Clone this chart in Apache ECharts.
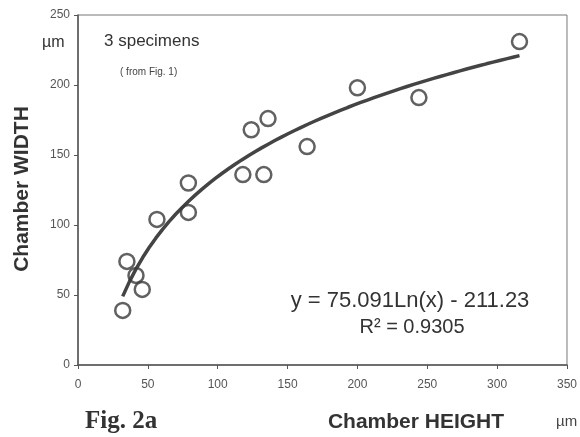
<!DOCTYPE html>
<html>
<head>
<meta charset="utf-8">
<script src="https://cdn.jsdelivr.net/npm/echarts@6/dist/echarts.min.js"></script>
<style>
  html, body { margin: 0; padding: 0; background: #fff; }
  #chart { width: 580px; height: 437px; }
</style>
</head>
<body>
<div id="chart"></div>
<script>
// 数据：腔室高度 / 宽度 (µm)
var chamberHeight = [32, 35, 41.5, 46, 56.5, 79, 79, 118, 124, 133, 136, 164, 200, 244, 316];
var chamberWidth  = [39, 74, 64, 54, 104, 109, 130, 136, 168, 136, 176, 156, 198, 191, 231];
var xTicks = [0, 50, 100, 150, 200, 250, 300, 350];
var yTicks = [0, 50, 100, 150, 200, 250];
// 趋势线系数 (图中公式)
var trendA = 75.091;
var trendB = -211.23;

(function(){
  var myChart = echarts.init(document.getElementById('chart'));
  var points = chamberHeight.map(function (x, i) { return [x, chamberWidth[i]]; });

  // 对数趋势线，从最小到最大高度
  var xMin = Math.min.apply(null, chamberHeight);
  var xMax = Math.max.apply(null, chamberHeight);
  var trend = [];
  for (var k = 0; k <= 60; k++) {
    var x = xMin + (xMax - xMin) * k / 60;
    trend.push([x, trendA * Math.log(x) + trendB]);
  }

  var font = 'Liberation Sans';
  var option = {
    backgroundColor: '#fff',
    textStyle: { fontFamily: font },
    grid: {
      left: 78, right: 13, top: 15, bottom: 72,
      show: true,
      borderColor: '#777',
      borderWidth: 1
    },
    xAxis: {
      type: 'value',
      min: 0, max: 350, interval: 50,
      splitLine: { show: false },
      axisLine: { lineStyle: { color: '#555', width: 1.5 } },
      axisTick: { length: 4, lineStyle: { color: '#555' } },
      axisLabel: {
        color: '#555', fontSize: 12, margin: 14,
        formatter: function (v) { return xTicks.indexOf(v) >= 0 ? String(v) : ''; }
      }
    },
    yAxis: {
      type: 'value',
      min: 0, max: 250, interval: 50,
      splitLine: { show: false },
      axisLine: { show: true, lineStyle: { color: '#555', width: 1.5 } },
      axisTick: { show: true, length: 4, lineStyle: { color: '#555' } },
      axisLabel: {
        color: '#555', fontSize: 12, margin: 8,
        formatter: function (v) { return yTicks.indexOf(v) >= 0 ? String(v) : ''; }
      }
    },
    series: [
      {
        type: 'line',
        data: trend,
        showSymbol: false,
        smooth: false,
        lineStyle: { color: '#444', width: 3.5 },
        z: 2
      },
      {
        type: 'scatter',
        data: points,
        symbol: 'circle',
        symbolSize: 15,
        itemStyle: { color: 'rgba(255,255,255,0)', borderColor: '#3a3a3a', borderWidth: 2.5 },
        z: 3
      }
    ],
    graphic: [
      { type: 'text', left: 42, top: 35, style: { text: 'µm', font: '16px ' + font, fill: '#333' } },
      { type: 'text', left: 104, top: 33, style: { text: '3 specimens', font: '17px ' + font, fill: '#333' } },
      { type: 'text', left: 120, top: 67, style: { text: '( from Fig. 1)', font: '10px ' + font, fill: '#444' } },
      {
        type: 'text', x: 22, y: 189, rotation: Math.PI / 2,
        style: { text: 'Chamber WIDTH', font: 'bold 21px ' + font, fill: '#333', textAlign: 'center', textVerticalAlign: 'middle' }
      },
      { type: 'text', x: 410, y: 301, style: { text: 'y = 75.091Ln(x) - 211.23', font: '22px ' + font, fill: '#333', textAlign: 'center', textVerticalAlign: 'middle' } },
      { type: 'text', x: 412, y: 327, style: { text: 'R² = 0.9305', font: '20px ' + font, fill: '#333', textAlign: 'center', textVerticalAlign: 'middle' } },
      { type: 'text', x: 85, y: 422, style: { text: 'Fig. 2a', font: 'bold 25px "Liberation Serif"', fill: '#333', textVerticalAlign: 'middle' } },
      { type: 'text', x: 416, y: 422, style: { text: 'Chamber HEIGHT', font: 'bold 21px ' + font, fill: '#333', textAlign: 'center', textVerticalAlign: 'middle' } },
      { type: 'text', x: 556, y: 422, style: { text: 'µm', font: '15px ' + font, fill: '#444', textVerticalAlign: 'middle' } }
    ]
  };

  myChart.setOption(option);
  window.addEventListener('resize', function () {
    myChart.resize();
  });
})();
</script>
</body>
</html>
